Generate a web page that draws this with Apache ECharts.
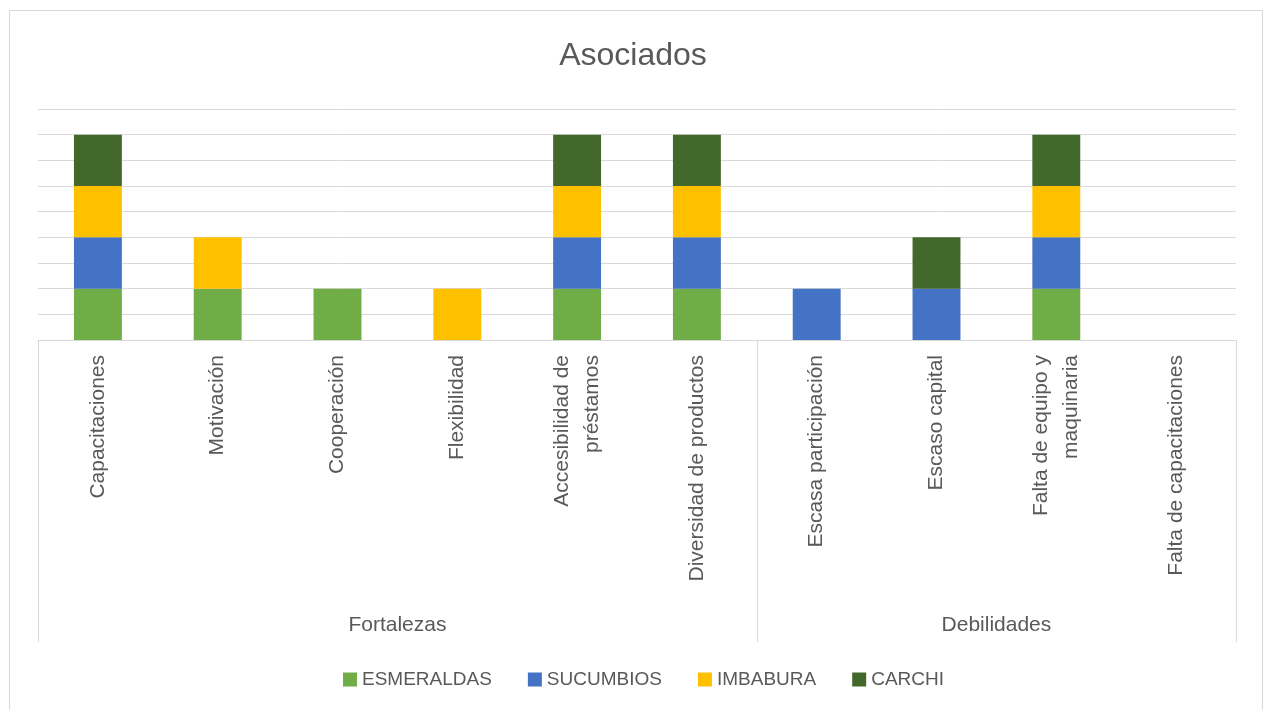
<!DOCTYPE html>
<html>
<head>
<meta charset="utf-8">
<script src="https://cdn.jsdelivr.net/npm/echarts@6/dist/echarts.min.js"></script>
<style>
	html, body { margin: 0; padding: 0; background: #fff; }
	#container { width: 1266px; height: 710px; }
	#frame { position: absolute; left: 9px; top: 10px; width: 1252px; height: 720px; border: 1px solid #d9d9d9; pointer-events: none; }
</style>
</head>
<body>
<div id="container"></div>
<div id="frame"></div>
<script>
// categorías del eje X
var categories = ['Capacitaciones', 'Motivación', 'Cooperación', 'Flexibilidad', 'Accesibilidad de\npréstamos',
	'Diversidad de productos', 'Escasa participación', 'Escaso capital', 'Falta de equipo y\nmaquinaria', 'Falta de capacitaciones'];
// grupos del eje (nivel superior) y cuántas categorías tiene cada uno
var groupNames = ['Fortalezas', 'Debilidades'];
var groupSizes = [6, 4];
// valores por provincia
var esmeraldas = [1, 1, 1, 0, 1, 1, 0, 0, 1, 0];
var sucumbios = [1, 0, 0, 0, 1, 1, 1, 1, 1, 0];
var imbabura = [1, 1, 0, 1, 1, 1, 0, 0, 1, 0];
var carchi = [1, 0, 0, 0, 1, 1, 0, 1, 1, 0];

var seriesNames = ['ESMERALDAS', 'SUCUMBIOS', 'IMBABURA', 'CARCHI'];
var seriesData = [esmeraldas, sucumbios, imbabura, carchi];
var colors = ['#70AD47', '#4472C4', '#FFC000', '#43682B'];

var font = "'Liberation Sans', Arial, sans-serif";

// límites y centros de los grupos
var bounds = [0];
var centers = [];
groupSizes.forEach(function(n, i) {
	centers.push(bounds[i] + n / 2);
	bounds.push(bounds[i] + n);
});

var myChart = echarts.init(document.getElementById('container'));
var option = {
	animation: false,
	color: colors,
	title: {
		text: 'Asociados',
		left: 'center',
		top: 35,
		textStyle: { fontFamily: font, fontSize: 32, fontWeight: 'normal', color: '#595959' }
	},
	legend: {
		data: seriesNames,
		top: 665,
		left: 338,
		icon: 'rect',
		itemWidth: 14,
		itemHeight: 14,
		itemGap: 36,
		textStyle: { fontFamily: font, fontSize: 19, color: '#595959' }
	},
	grid: { left: 38, right: 30, top: 109, bottom: 370 },
	xAxis: [{
		type: 'category',
		data: categories,
		axisLine: { lineStyle: { color: '#d9d9d9' } },
		axisTick: { show: false },
		axisLabel: {
			interval: 0,
			rotate: 90,
			margin: 15,
			fontFamily: font,
			fontSize: 21,
			lineHeight: 30,
			color: '#595959'
		}
	}, {
		type: 'value',
		position: 'bottom',
		offset: 302,
		min: 0,
		max: bounds[bounds.length - 1],
		axisLine: { show: false },
		splitLine: { show: false },
		axisTick: {
			inside: true,
			length: 302,
			customValues: bounds,
			lineStyle: { color: '#d9d9d9' }
		},
		axisLabel: {
			inside: true,
			margin: 6,
			customValues: centers,
			formatter: function(v) {
				var i = centers.indexOf(v);
				return i >= 0 ? groupNames[i] : '';
			},
			fontFamily: font,
			fontSize: 21,
			color: '#595959'
		}
	}],
	yAxis: {
		type: 'value',
		min: 0,
		max: 4.5,
		interval: 0.5,
		axisLabel: { show: false },
		axisLine: { show: false },
		axisTick: { show: false },
		splitLine: { lineStyle: { color: '#d9d9d9' } }
	},
	series: seriesNames.map(function(name, i) {
		return {
			name: name,
			type: 'bar',
			stack: 'total',
			barWidth: '40%',
			xAxisIndex: 0,
			data: seriesData[i]
		};
	})
};
myChart.setOption(option);
</script>
</body>
</html>
